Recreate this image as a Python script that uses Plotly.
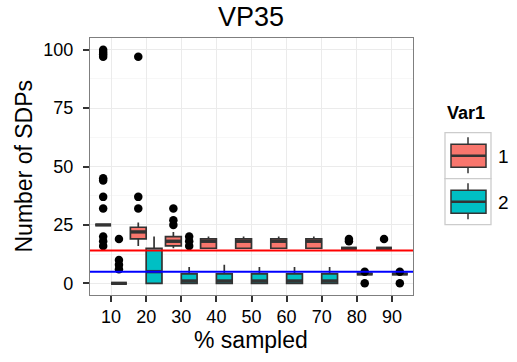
import numpy as np
import plotly.graph_objects as go

# Sampling levels (categories on the x axis)
pct_labels = ["10", "20", "30", "40", "50", "60", "70", "80", "90"]

# Box statistics for Var1 = 1
v1_low = [25, 16, 15, 15, 15, 15, 15, 15, 15]
v1_q1 = [25, 19, 16, 15, 15, 15, 15, 15, 15]
v1_med = [25, 22, 18, 18, 18, 18, 18, 15, 15]
v1_q3 = [25, 24, 20, 19, 19, 19, 19, 15, 15]
v1_high = [25, 26, 22, 20, 20, 20, 20, 15, 15]
v1_outliers = [
    [100, 99, 98, 97, 45, 44, 37, 32, 20, 18, 16],
    [97, 37, 32],
    [32, 27, 25],
    [], [], [], [],
    [19, 18],
    [19],
]

# Box statistics for Var1 = 2
v2_low = [0, 0, 0, 0, 0, 0, 0, 4, 4]
v2_q1 = [0, 0, 0, 0, 0, 0, 0, 4, 4]
v2_med = [0, 5, 1, 1, 1, 1, 1, 4, 4]
v2_q3 = [0, 15, 4, 4, 4, 4, 4, 4, 4]
v2_high = [0, 20, 7, 8, 7, 7, 7, 4, 4]
v2_outliers = [
    [19, 10, 8, 6],
    [],
    [20, 18, 16],
    [], [], [], [],
    [5, 0],
    [5, 0],
]

# Reference levels
ref_red = 14
ref_blue = 5

COL1 = "#F8766D"
COL2 = "#00BFC4"
EDGE = "#333333"
FONT = "Liberation Sans"

W, H = 517, 362
idx = np.arange(1, len(pct_labels) + 1)
dodge = 0.225
box_w = 0.45


def px(x):
    return x / W


def py(y):
    return 1 - y / H


fig = go.Figure()

for offset, color, lo, q1, med, q3, hi, outs in [
    (-dodge, COL1, v1_low, v1_q1, v1_med, v1_q3, v1_high, v1_outliers),
    (dodge, COL2, v2_low, v2_q1, v2_med, v2_q3, v2_high, v2_outliers),
]:
    pos = idx + offset
    fig.add_trace(go.Box(
        x=pos, q1=q1, median=med, q3=q3,
        lowerfence=lo, upperfence=hi,
        width=box_w, whiskerwidth=0,
        fillcolor=color, line=dict(color=EDGE, width=1.7),
        hoverinfo="skip", showlegend=False,
    ))
    # thicker median bars
    mx, my = [], []
    for p, m in zip(pos, med):
        mx += [p - box_w / 2, p + box_w / 2, None]
        my += [m, m, None]
    fig.add_trace(go.Scatter(
        x=mx, y=my, mode="lines",
        line=dict(color=EDGE, width=3.4),
        hoverinfo="skip", showlegend=False,
    ))
    ox, oy = [], []
    for i, vals in zip(idx, outs):
        ox += [i + offset] * len(vals)
        oy += vals
    fig.add_trace(go.Scatter(
        x=ox, y=oy, mode="markers",
        marker=dict(color="black", size=8.5, line=dict(width=0)),
        hoverinfo="skip", showlegend=False,
    ))

fig.add_hline(y=ref_red, line=dict(color="#FF0000", width=2))
fig.add_hline(y=ref_blue, line=dict(color="#0000FF", width=2))

axis_common = dict(
    ticks="outside", ticklen=6, tickwidth=1.5, tickcolor=EDGE,
    showgrid=True, gridcolor="#EBEBEB", gridwidth=1,
    zeroline=False, showline=True, mirror=True,
    linecolor="#7F7F7F", linewidth=1.3,
    tickfont=dict(family=FONT, size=18, color="black"),
    automargin=False,
)

fig.update_layout(
    width=W, height=H,
    margin=dict(l=0, r=0, t=0, b=0),
    paper_bgcolor="white", plot_bgcolor="white",
    template="none", showlegend=False, boxmode="overlay",
    font=dict(family=FONT, color="black"),
    xaxis=dict(
        domain=[px(90), px(413)], range=[0.4, 9.6],
        tickvals=idx, ticktext=pct_labels, ticklabelstandoff=-1,
        **axis_common,
    ),
    yaxis=dict(
        domain=[py(295), py(38)], range=[-5, 105],
        tickvals=[0, 25, 50, 75, 100], ticklabelstandoff=6,
        minor=dict(tick0=12.5, dtick=25, showgrid=True,
                   gridcolor="#F7F7F7", gridwidth=1, ticks=""),
        **axis_common,
    ),
)

# Titles
ann = [
    dict(text="VP35", x=px(251), y=py(17), font=dict(size=27)),
    dict(text="% sampled", x=px(251), y=py(340), font=dict(size=23)),
    dict(text="Number of SDPs", x=px(23), y=py(166.5), font=dict(size=23),
         textangle=-90),
    dict(text="<b>Var1</b>", x=px(445), y=py(113), xanchor="left",
         font=dict(size=18)),
    dict(text="1", x=px(496), y=py(156), xanchor="left", font=dict(size=19)),
    dict(text="2", x=px(496), y=py(202), xanchor="left", font=dict(size=19)),
]
for a in ann:
    a.setdefault("xanchor", "center")
    fig.add_annotation(xref="paper", yref="paper", yanchor="middle",
                       showarrow=False, **a)

# Legend keys
for k, color in enumerate([COL1, COL2]):
    top = 132.7 + 46 * k
    fig.add_shape(type="rect", xref="paper", yref="paper",
                  x0=px(445), x1=px(491), y0=py(top), y1=py(top + 46),
                  line=dict(color="#CCCCCC", width=1.3), fillcolor="white")
    fig.add_shape(type="line", xref="paper", yref="paper",
                  x0=px(468), x1=px(468), y0=py(top + 4.5), y1=py(top + 40.5),
                  line=dict(color=EDGE, width=1.5))
    fig.add_shape(type="rect", xref="paper", yref="paper",
                  x0=px(451), x1=px(486), y0=py(top + 11.5), y1=py(top + 34.5),
                  line=dict(color=EDGE, width=1.5), fillcolor=color)
    fig.add_shape(type="line", xref="paper", yref="paper",
                  x0=px(451), x1=px(486), y0=py(top + 23), y1=py(top + 23),
                  line=dict(color=EDGE, width=2.5))

fig.write_html("out.html")
